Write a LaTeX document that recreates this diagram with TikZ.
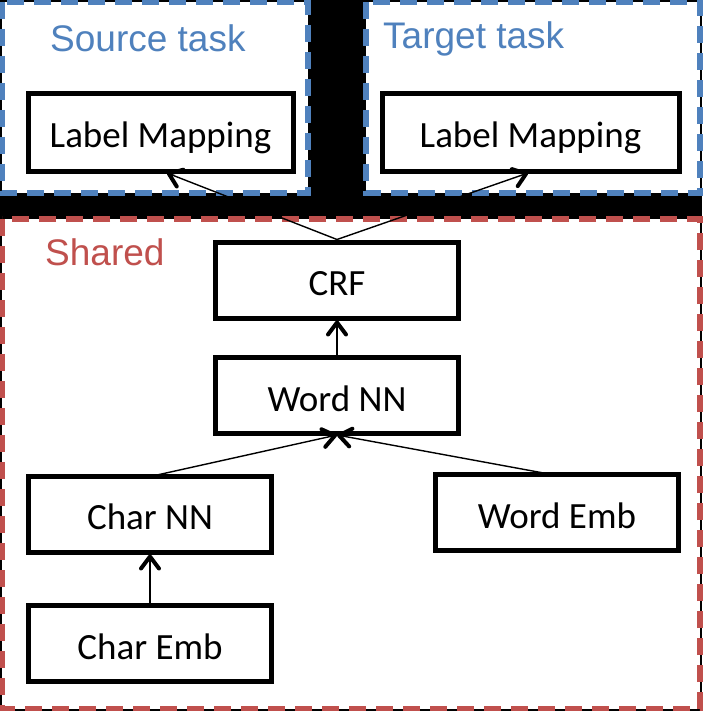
\documentclass[tikz,border=0pt]{standalone}
\usepackage{fontspec}
\setmainfont{Carlito}
\newfontfamily\arialfont{Liberation Sans}
\usetikzlibrary{arrows.meta}
\definecolor{taskblue}{RGB}{79,129,189}
\definecolor{sharedred}{RGB}{192,80,77}
\tikzset{
  x=1pt, y=-1pt,
  region/.style={fill=white, line width=5.5pt, dash pattern=on 17pt off 10pt},
  blk/.style={draw=black, fill=white, line width=5pt, minimum width=243pt, minimum height=76pt, inner sep=0pt, text height=24pt, text depth=0pt, font=\fontsize{37}{40}\selectfont},
  blktext/.style={yshift=-3.5pt, inner sep=0pt, text height=24pt, text depth=0pt, font=\fontsize{37}{40}\selectfont},
  lbl/.style={anchor=base west, inner sep=0pt, font=\arialfont\fontsize{37}{40}\selectfont},
  conn/.style={line width=1.4pt, -{Straight Barb[length=12pt,width=18pt,line width=4pt,round]}}
}
\begin{document}
\begin{tikzpicture}
\fill[black] (0,0) rectangle (702,711);
\useasboundingbox (0,0) rectangle (702,711);
% regions
\draw[region, draw=taskblue] (2,2) rectangle (308,193);
\draw[region, draw=taskblue] (366,2) rectangle (700,193);
\draw[region, draw=sharedred] (2,219) rectangle (700,709);
\node[lbl, text=taskblue] (srclbl) at (50,52) {Source task};
\node[lbl, text=taskblue] (tgtlbl) at (383,49) {Target task};
\node[lbl, text=sharedred] (shlbl) at (45,265) {Shared};
% blocks
\node[blk, minimum width=265pt, minimum height=78pt] (lm1) at (160.5,132.5) {};
\node[blk, minimum width=297pt, minimum height=78pt] (lm2) at (530.5,132.5) {};
\node[blk] (crf) at (337,280) {};
\node[blk] (wnn) at (337,395.5) {};
\node[blk] (cnn) at (150,514) {};
\node[blk] (wemb) at (557,512.5) {};
\node[blk] (cemb) at (150,643.5) {};
\node[blktext] (lm1t) at (lm1.center) {Label Mapping};
\node[blktext] (lm2t) at (lm2.center) {Label Mapping};
\node[blktext] (crft) at (crf.center) {CRF};
\node[blktext] (wnnt) at (wnn.center) {Word NN};
\node[blktext] (cnnt) at (cnn.center) {Char NN};
\node[blktext] (wembt) at (wemb.center) {Word Emb};
\node[blktext] (cembt) at (cemb.center) {Char Emb};
% connectors
\coordinate (lm1in) at (167,173);
\coordinate (lm2in) at (528,173);
\coordinate (wnnin) at (337,435);
\coordinate (cnnout) at (157,475);
\coordinate (wembout) at (549,474);
\draw[conn] (crf.north) -- (lm1in);
\draw[conn] (crf.north) -- (lm2in);
\draw[conn] (wnn.north) -- (crf.south);
\draw[conn] (cnnout) -- (wnnin);
\draw[conn] (wembout) -- (wnnin);
\draw[conn] (cemb.north) -- (cnn.south);
\end{tikzpicture}
\end{document}
